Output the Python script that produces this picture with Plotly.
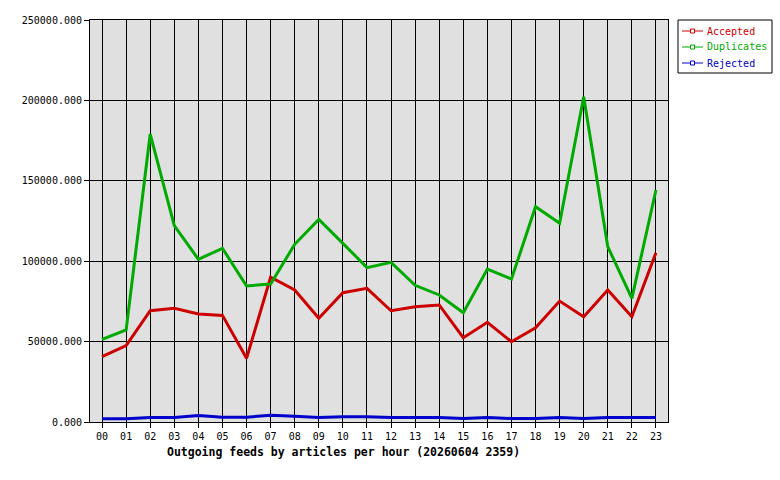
import plotly.graph_objects as go

hours = ["00","01","02","03","04","05","06","07","08","09","10","11",
         "12","13","14","15","16","17","18","19","20","21","22","23"]
accepted = [40600, 47500, 69200, 70700, 67200, 66300, 39600, 90000, 82100, 64500, 80400, 83100,
            69200, 71700, 72800, 52400, 62000, 49900, 58600, 75200, 65500, 82100, 65500, 105300]
duplicates = [51400, 57200, 179100, 122100, 101200, 108000, 84600, 85800, 110500, 126000, 111100, 96000,
              99300, 85000, 79000, 68000, 95100, 88900, 133900, 123600, 202300, 109000, 76900, 144300]
rejected = [2000, 2000, 2800, 2800, 4000, 3000, 3000, 4200, 3500, 2800, 3300, 3300,
            2800, 2800, 2800, 2200, 2800, 2200, 2200, 2800, 2200, 2800, 2800, 2800]
y_ticks = [0, 50000, 100000, 150000, 200000, 250000]
series_names = ["Accepted", "Duplicates", "Rejected"]
title_text = "Outgoing feeds by articles per hour (20260604 2359)"

RED, GREEN, BLUE = "#cc0000", "#00aa00", "#0000cc"
FONT = "DejaVu Sans Mono"
xs = list(range(len(hours)))

# plot area in pixels
L, R, T, B = 90, 668, 20, 422
W, H = R - L, B - T
def px(x): return (x - L) / W
def py(y): return (B - y) / H

fig = go.Figure()
for vals, col in zip([accepted, duplicates, rejected], [RED, GREEN, BLUE]):
    fig.add_trace(go.Scatter(x=xs, y=vals, mode="lines", line=dict(color=col, width=3),
                             showlegend=False, hoverinfo="skip"))

shapes = [dict(type="rect", xref="paper", yref="paper", x0=px(678), x1=px(772), y0=py(20), y1=py(73),
               line=dict(color="black", width=1), fillcolor="white", layer="above")]
annotations = []
for i, (name, col) in enumerate(zip(series_names, [RED, GREEN, BLUE])):
    yy = 31 + i * 16
    shapes.append(dict(type="line", xref="paper", yref="paper", x0=px(682), x1=px(703),
                       y0=py(yy), y1=py(yy), line=dict(color=col, width=1)))
    shapes.append(dict(type="rect", xref="paper", yref="paper", x0=px(690.5), x1=px(694.5),
                       y0=py(yy + 2), y1=py(yy - 2), line=dict(color=col, width=1), fillcolor="white"))
    annotations.append(dict(text=name, xref="paper", yref="paper", x=px(705), y=py(yy),
                            xanchor="left", yanchor="middle", showarrow=False,
                            font=dict(family=FONT, size=10, color=col)))
annotations.append(dict(text=f"<b>{title_text}</b>", xref="paper", yref="paper",
                        x=px(343), y=py(452), xanchor="center", yanchor="middle",
                        showarrow=False, font=dict(family=FONT, size=11.5, color="black")))

fig.update_layout(
    width=780, height=480,
    margin=dict(l=L, r=780 - R, t=T, b=480 - B),
    paper_bgcolor="white", plot_bgcolor="#e0e0e0",
    font=dict(family=FONT, size=10, color="black"),
    showlegend=False,
    xaxis=dict(range=[-0.5, 23.5], tickmode="array", tickvals=xs, ticktext=hours,
               showgrid=True, gridcolor="black", gridwidth=1,
               ticks="outside", ticklen=5, tickcolor="black",
               showline=True, linecolor="black", linewidth=1, mirror=True,
               zeroline=False, tickfont=dict(family=FONT, size=10)),
    yaxis=dict(range=[0, 250000], tickmode="array", tickvals=y_ticks,
               ticktext=[f"{v:.3f}" for v in y_ticks],
               showgrid=True, gridcolor="black", gridwidth=1,
               ticks="outside", ticklen=5, tickcolor="black",
               showline=True, linecolor="black", linewidth=1, mirror=True,
               zeroline=False, tickfont=dict(family=FONT, size=10)),
    shapes=shapes,
    annotations=annotations,
)

fig.write_html("out.html")
